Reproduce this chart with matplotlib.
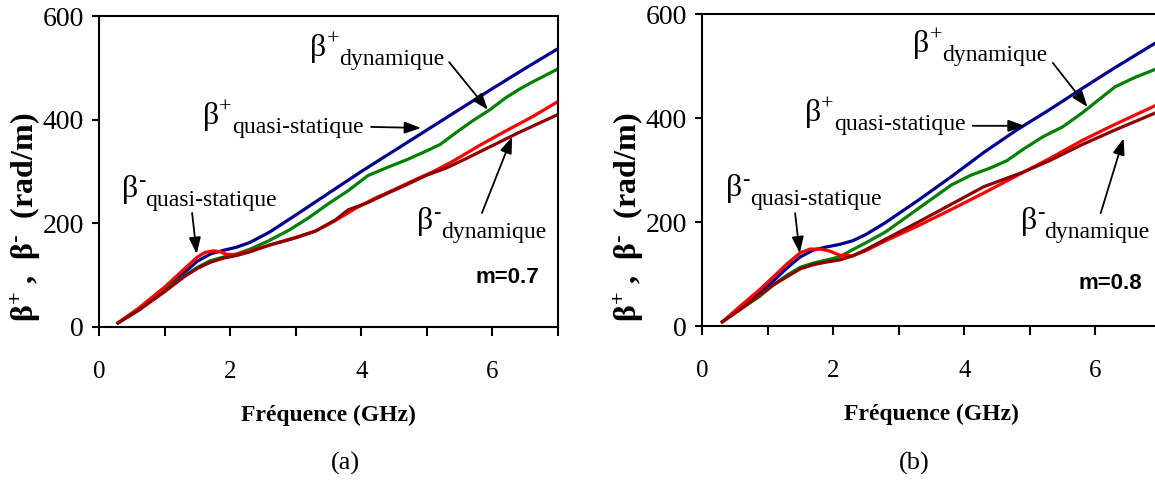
import numpy as np
import matplotlib
matplotlib.use("Agg")
import matplotlib.pyplot as plt

plt.rcParams['font.family'] = ['Liberation Serif', 'DejaVu Serif']
plt.rcParams['mathtext.fontset'] = 'custom'
plt.rcParams['mathtext.rm'] = 'Liberation Serif'
plt.rcParams['mathtext.bf'] = 'Liberation Serif:bold'
plt.rcParams['mathtext.it'] = 'Liberation Serif:italic'

# ---- data (GHz, rad/m) ----
# panel (a), m = 0.7
fa_blue = [0.29, 0.6, 1.0, 1.3, 1.5, 1.7, 1.9, 2.1, 2.3, 2.6, 3.0, 3.5, 4.0, 4.5, 5.0, 5.5, 6.0, 6.5, 7.0]
ba_blue = [8, 33, 72, 105, 127, 141, 148, 154, 163, 183, 216, 258, 300, 340, 380, 420, 460, 499, 537]
fa_green = [0.29, 0.6, 1.0, 1.3, 1.5, 1.7, 1.9, 2.1, 2.3, 2.6, 2.9, 3.2, 3.5, 3.8, 4.1, 4.4, 4.7,
            5.0, 5.2, 5.5, 5.7, 5.96, 6.2, 6.4, 6.6, 7.0]
ba_green = [8, 32, 70, 99, 115, 128, 135, 141, 150, 167, 187, 211, 238, 263, 292, 308, 323,
            340, 352, 380, 398, 419, 442, 458, 472, 498]
fa_red = [0.29, 0.6, 1.0, 1.3, 1.5, 1.62, 1.75, 1.85, 1.95, 2.1, 2.3, 2.6, 3.0, 3.3, 3.6, 3.9,
          4.2, 4.5, 4.8, 5.1, 5.4, 5.8, 6.2, 6.6, 7.0]
ba_red = [8, 36, 77, 112, 135, 144, 147, 145, 140, 140, 147, 158, 173, 185, 205, 228,
          248, 265, 283, 300, 320, 350, 378, 405, 435]
fa_dred = [0.29, 0.6, 1.0, 1.3, 1.5, 1.7, 1.9, 2.1, 2.3, 2.6, 3.0, 3.3, 3.6, 3.8, 4.1, 4.4,
           4.7, 5.0, 5.3, 5.6, 6.0, 6.4, 7.0]
ba_dred = [8, 32, 68, 97, 113, 125, 133, 138, 145, 158, 172, 185, 206, 226, 240, 258,
           275, 293, 307, 325, 350, 375, 410]

# panel (b), m = 0.8
fb_blue = [0.31, 0.6, 0.87, 1.1, 1.3, 1.5, 1.7, 1.9, 2.1, 2.3, 2.5, 2.8, 3.3, 3.8, 4.3, 4.8,
           5.3, 5.8, 6.3, 6.9]
bb_blue = [8, 35, 62, 88, 112, 133, 146, 152, 157, 164, 176, 199, 242, 287, 334, 377,
           416, 457, 497, 543]
fb_green = [0.47, 0.7, 0.87, 1.1, 1.3, 1.5, 1.7, 1.9, 2.1, 2.3, 2.5, 2.8, 3.3, 3.8, 4.1, 4.4,
            4.65, 4.9, 5.2, 5.5, 5.8, 6.0, 6.3, 6.6, 6.9]
bb_green = [24, 42, 56, 80, 98, 113, 121, 127, 133, 147, 160, 181, 226, 271, 290, 304,
            318, 340, 364, 383, 410, 430, 460, 478, 493]
fb_red = [0.31, 0.6, 0.87, 1.1, 1.3, 1.5, 1.65, 1.8, 1.95, 2.1, 2.3, 2.5, 2.8, 3.3, 3.8, 4.3,
          4.8, 5.3, 5.8, 6.3, 6.9]
bb_red = [8, 40, 69, 96, 120, 141, 148, 148, 144, 136, 135, 145, 164, 193, 224, 256,
          289, 322, 357, 388, 423]
fb_dred = [0.31, 0.6, 0.87, 1.1, 1.3, 1.5, 1.7, 1.9, 2.1, 2.3, 2.5, 2.8, 3.3, 3.8, 4.3, 4.6,
           4.9, 5.3, 5.8, 6.3, 6.9]
bb_dred = [8, 33, 59, 80, 95, 110, 118, 123, 127, 135, 147, 167, 200, 234, 268, 282,
           296, 318, 349, 377, 409]

colors = {'blue': '#00008c', 'green': '#008000', 'red': '#ff0000', 'dred': '#8b0000'}


def add_beta(ax, x, y, sign, sub):
    # beta, then superscript sign, then subscript word right after it
    b = ax.text(x, y, '\u03b2', fontsize=23, va='baseline', ha='left')
    s = ax.annotate(sign, xy=(1.0, y), xycoords=(b, 'data'), xytext=(0, 8),
                    textcoords='offset points', fontsize=16, va='baseline', ha='left')
    ax.annotate(sub, xy=(1.0, y), xycoords=(s, 'data'), xytext=(0, -6.5),
                textcoords='offset points', fontsize=17, va='baseline', ha='left')


def add_arrow(ax, tail, head):
    ax.annotate('', xy=head, xytext=tail,
                arrowprops=dict(arrowstyle='-|>,head_length=0.55,head_width=0.2',
                                color='black', lw=1.3, shrinkA=0, shrinkB=0,
                                mutation_scale=18))


def draw_panel(ax, curves, labels, arrows, mtext, mpos):
    for f, b, c in curves:
        ax.plot(f, b, color=colors[c], lw=2.3, solid_joinstyle='round')
    ax.set_xlim(0, 7)
    ax.set_ylim(0, 600)
    ax.set_xticks([0, 2, 4, 6])
    ax.set_xticks([1, 3, 5, 7], minor=True)
    ax.set_yticks([0, 200, 400, 600])
    ax.tick_params(axis='x', which='both', direction='out', length=6.5, width=1.5,
                   labelsize=18, pad=18)
    ax.tick_params(axis='y', direction='out', length=5, width=1.5, labelsize=20, pad=6)
    for sp in ax.spines.values():
        sp.set_linewidth(1.5)
    ax.set_xlabel('Fréquence (GHz)', fontsize=17, fontweight='bold', labelpad=16)
    for x, y, sign, sub in labels:
        add_beta(ax, x, y, sign, sub)
    for tail, head in arrows:
        add_arrow(ax, tail, head)
    ax.text(mpos[0], mpos[1], mtext, fontsize=16, fontweight='bold',
            family='Liberation Sans', ha='center', va='center')


W, H = 1155, 484
fig = plt.figure(figsize=(W / 100, H / 100), dpi=100)

ax_a = fig.add_axes([99 / W, 1 - 327 / H, 459 / W, 311 / H])
ax_b = fig.add_axes([702 / W, 1 - 326 / H, 459 / W, 312 / H])

draw_panel(ax_a,
           [(fa_blue, ba_blue, 'blue'), (fa_green, ba_green, 'green'),
            (fa_red, ba_red, 'red'), (fa_dred, ba_dred, 'dred')],
           [(3.22, 523, '+', 'dynamique'), (1.585, 392, '+', 'quasi-statique'),
            (0.35, 251, '-', 'quasi-statique'), (4.85, 189, '-', 'dynamique')],
           [((5.34, 511), (5.93, 419)), ((4.15, 386), (4.91, 384)),
            ((1.42, 220), (1.49, 141)), ((5.84, 220), (6.30, 367))],
           'm=0.7', (6.23, 96))

draw_panel(ax_b,
           [(fb_blue, bb_blue, 'blue'), (fb_green, bb_green, 'green'),
            (fb_red, bb_red, 'red'), (fb_dred, bb_dred, 'dred')],
           [(3.22, 527, '+', 'dynamique'), (1.57, 394, '+', 'quasi-statique'),
            (0.37, 250, '-', 'quasi-statique'), (4.86, 187, '-', 'dynamique')],
           [((5.35, 506), (5.88, 421)), ((4.13, 385), (4.92, 385)),
            ((1.42, 217), (1.49, 140)), ((6.08, 217), (6.43, 361))],
           'm=0.8', (6.22, 81))

ylab = r'$\mathbf{\beta^{+}}$ ,  $\mathbf{\beta^{\text{-}}}$  (rad/m)'
for xp in (26, 629):
    fig.text(xp / W, 1 - 217 / H, ylab, rotation=90, fontsize=23, fontweight='bold',
             ha='center', va='center')

fig.text(345 / W, 1 - 463 / H, '(a)', fontsize=19, ha='center', va='center')
fig.text(914 / W, 1 - 463 / H, '(b)', fontsize=19, ha='center', va='center')

fig.savefig('out.png', dpi=100)
